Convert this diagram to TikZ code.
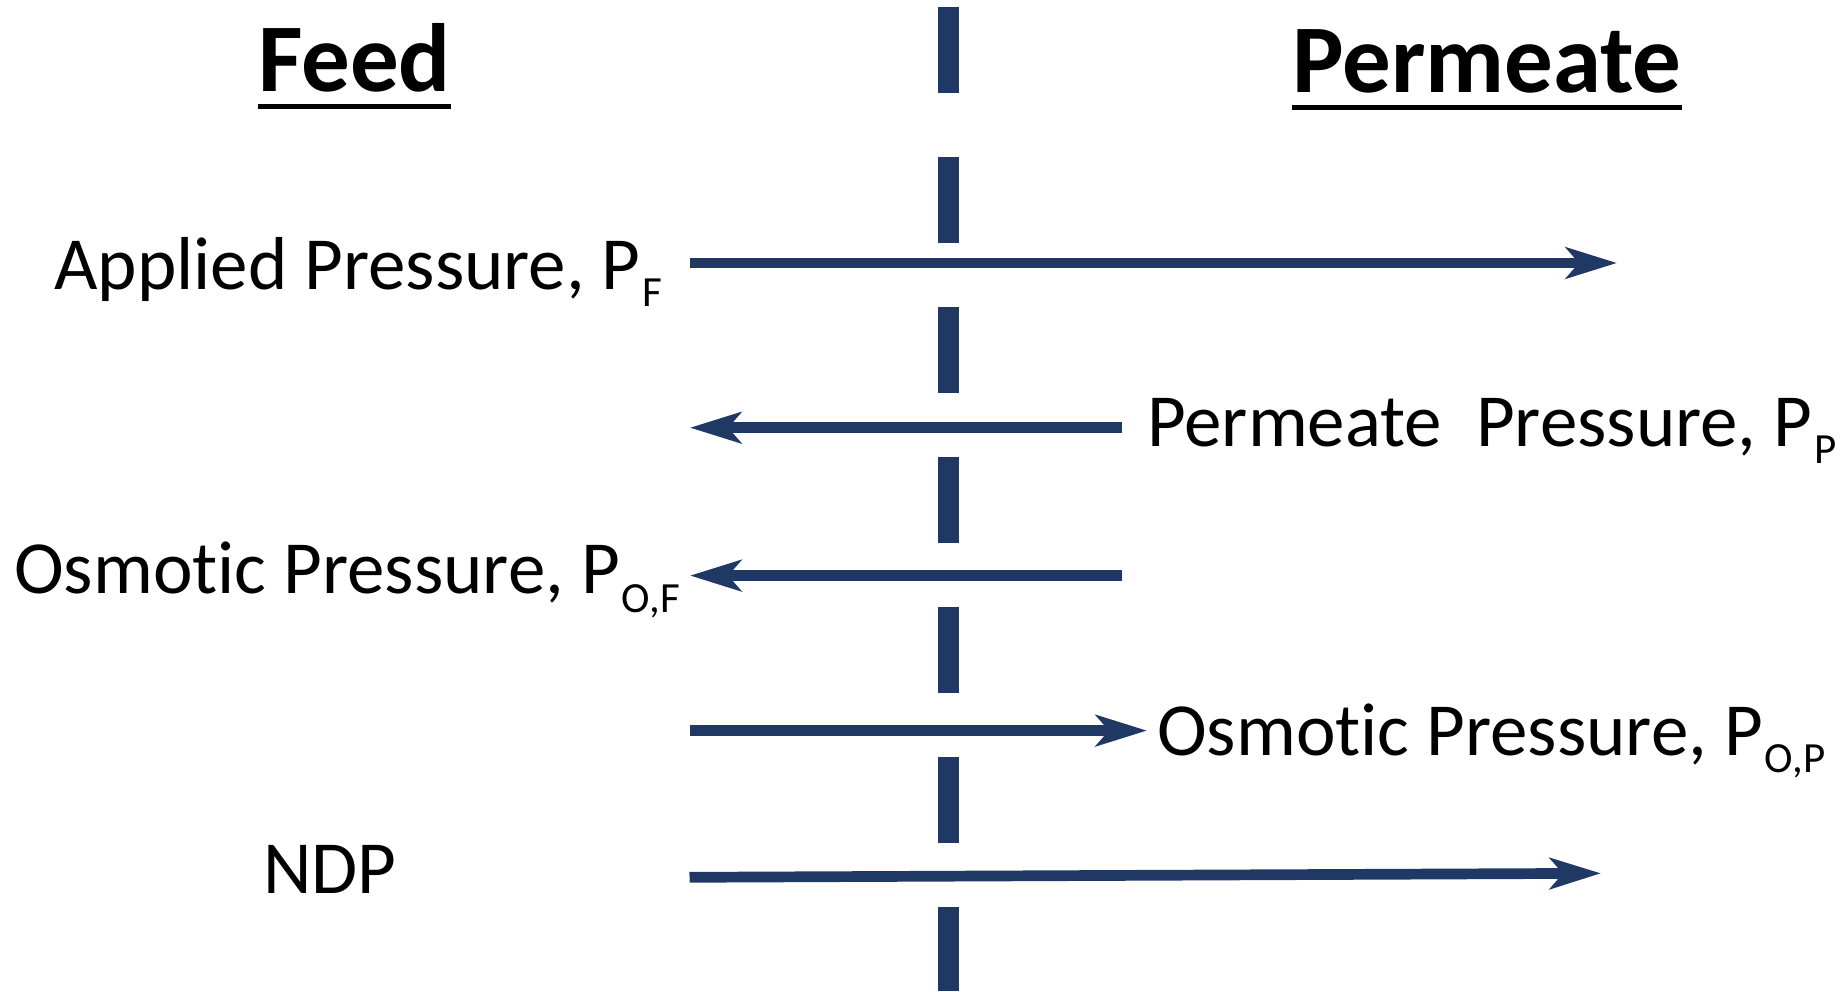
\documentclass[tikz,border=0pt]{standalone}
\usepackage{fontspec}
\setmainfont{Carlito}[Ligatures=NoCommon]
\usetikzlibrary{arrows.meta}
\definecolor{navy}{HTML}{1F3864}
\newcommand{\subs}[2]{\hspace{2pt}\raisebox{-#2}{\fontsize{43pt}{43pt}\selectfont #1}}

\begin{document}
\begin{tikzpicture}[x=1pt,y=-1pt,
            head/.style={anchor=base west,inner sep=0,font=\fontsize{97pt}{105pt}\selectfont\bfseries},
            lab/.style={anchor=base west,inner sep=0,font=\fontsize{75pt}{90pt}\selectfont},
            uline/.style={draw,line width=5.5pt},
            membrane/.style={draw=navy,line width=21pt,dash pattern=on 86pt off 64pt},
            force/.style={draw=navy,line width=10.7pt,-{Stealth[length=51pt,width=31pt,inset=13pt]}}
          ]
          \useasboundingbox (0,0) rectangle (1842,991);

          %membrane
          \coordinate (mtop) at (948,7);
          \coordinate (mbot) at (948,991);
          \path[membrane] (mtop) -- (mbot);

          %headings
          \node[head] (feed) at (258,91) {Feed};
          \node[head] (perm) at (1292,92) {Permeate};
          \path[uline] ([yshift=-15.5pt]feed.base west) -- ([yshift=-15.5pt]feed.base east);
          \path[uline] ([yshift=-15.5pt]perm.base west) -- ([yshift=-15.5pt]perm.base east);

          %labels
          \node[lab] (pf) at (54,289) {Applied Pressure, P\subs{F}{17pt}};
          \node[lab] (pp) at (1147,446) {Permeate\ \ Pressure, P\subs{P}{17pt}};
          \node[lab] (pof) at (14,593) {Osmotic Pressure, P\subs{O,F}{19pt}};
          \node[lab] (pop) at (1157,755) {Osmotic Pressure, P\subs{O,P}{17pt}};
          \node[lab] (ndp) at (263,893) {NDP};

          %arrows
          \coordinate (pf0) at (689.5,263);
          \coordinate (pf1) at (1617,263);
          \coordinate (pp0) at (1122,427.7);
          \coordinate (pp1) at (690,427.7);
          \coordinate (pof0) at (1122,575.6);
          \coordinate (pof1) at (690,575.6);
          \coordinate (pop0) at (689.5,730.6);
          \coordinate (pop1) at (1147,730.6);
          \coordinate (ndp0) at (689.5,877.3);
          \coordinate (ndp1) at (1601,873.3);
          \path[force] (pf0) -- (pf1);
          \path[force] (pp0) -- (pp1);
          \path[force] (pof0) -- (pof1);
          \path[force] (pop0) -- (pop1);
          \path[force] (ndp0) -- (ndp1);

      \end{tikzpicture}
\end{document}
